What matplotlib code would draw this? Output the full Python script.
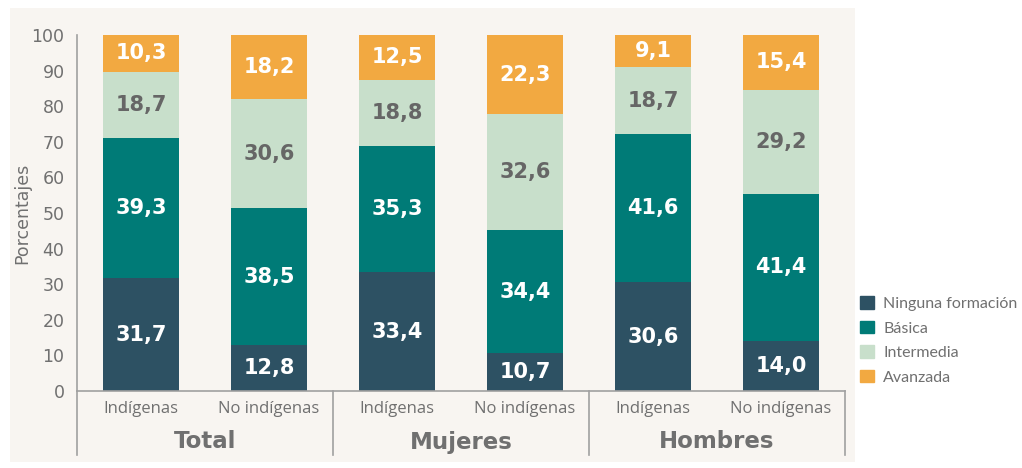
import matplotlib.pyplot as plt
import matplotlib.patches as mpatches
from matplotlib.transforms import blended_transform_factory
import numpy as np

categories = ["Indígenas", "No indígenas", "Indígenas", "No indígenas", "Indígenas", "No indígenas"]
groups = ["Total", "Mujeres", "Hombres"]
series_names = ["Ninguna formación", "Básica", "Intermedia", "Avanzada"]
ninguna = [31.7, 12.8, 33.4, 10.7, 30.6, 14.0]
basica = [39.3, 38.5, 35.3, 34.4, 41.6, 41.4]
intermedia = [18.7, 30.6, 18.8, 32.6, 18.7, 29.2]
avanzada = [10.3, 18.2, 12.5, 22.3, 9.1, 15.4]
yticks = [0, 10, 20, 30, 40, 50, 60, 70, 80, 90, 100]

colors = ["#2d5163", "#007b77", "#c8dfcb", "#f2a941"]
label_colors = ["white", "white", "#666666", "white"]
gray = "#707070"
font = "DejaVu Sans"

W, H = 1022, 468
fig = plt.figure(figsize=(W / 100, H / 100), dpi=100)
fig.patch.set_facecolor("white")
bg = mpatches.Rectangle((10 / W, (H - 462) / H), (855 - 10) / W, (462 - 8) / H,
                        transform=fig.transFigure, facecolor="#f8f5f1",
                        edgecolor="none", zorder=-10)
fig.patches.append(bg)

ax = fig.add_axes([77 / W, (H - 391) / H, (845 - 77) / W, (391 - 35) / H])
ax.set_zorder(1)
ax.set_facecolor("none")
x = np.arange(len(categories))
bw = 0.59
series = [ninguna, basica, intermedia, avanzada]
bottom = np.zeros(len(categories))
for vals, c, lc, name in zip(series, colors, label_colors, series_names):
    vals = np.array(vals)
    ax.bar(x, vals, bw, bottom=bottom, color=c, label=name, zorder=2)
    for xi, b, v in zip(x, bottom, vals):
        ax.text(xi, b + v / 2, f"{v:.1f}".replace(".", ","), ha="center", va="center",
                color=lc, fontsize=15, fontweight="bold", family=font, zorder=3)
    bottom += vals

ax.set_xlim(-0.5, len(categories) - 0.5)
ax.set_ylim(0, 100)
ax.set_yticks(yticks)
ax.set_yticklabels([str(t) for t in yticks], fontsize=12.5, color=gray, family=font)
ax.tick_params(axis="y", length=0, pad=9)
ax.set_xticks(x)
ax.set_xticklabels(categories, fontsize=12, color=gray, family="Open Sans")
ax.tick_params(axis="x", length=0, pad=7)
for s in ["top", "right"]:
    ax.spines[s].set_visible(False)
for s in ["left", "bottom"]:
    ax.spines[s].set_color("#a0a0a0")
    ax.spines[s].set_linewidth(1.2)
ax.set_ylabel("Porcentajes", fontsize=12.5, color=gray, family=font, labelpad=0)

trans = blended_transform_factory(ax.transData, ax.transAxes)
ybot = -(455 - 391) / (391 - 35)
for xs in [-0.5, 1.5, 3.5, 5.5]:
    ax.plot([xs, xs], [0, ybot], transform=trans, color="#a0a0a0", lw=1.2, clip_on=False)
for i, g in enumerate(groups):
    ax.text(2 * i + 0.5, -(442 - 391) / (391 - 35), g, transform=trans, ha="center", va="center",
            fontsize=16.5, fontweight="bold", color=gray, family=font)

handles = [mpatches.Patch(color=c, label=n) for c, n in zip(colors, series_names)]
leg = fig.legend(handles=handles, loc="upper left", bbox_to_anchor=(849 / W, (H - 285) / H),
                 frameon=False, prop={"family": "Lato", "size": 11.5},
                 handlelength=0.85, handleheight=0.85,
                 handletextpad=0.6, labelspacing=0.6, borderpad=0.2)
for t in leg.get_texts():
    t.set_color(gray)

fig.savefig("out.png", dpi=100)
